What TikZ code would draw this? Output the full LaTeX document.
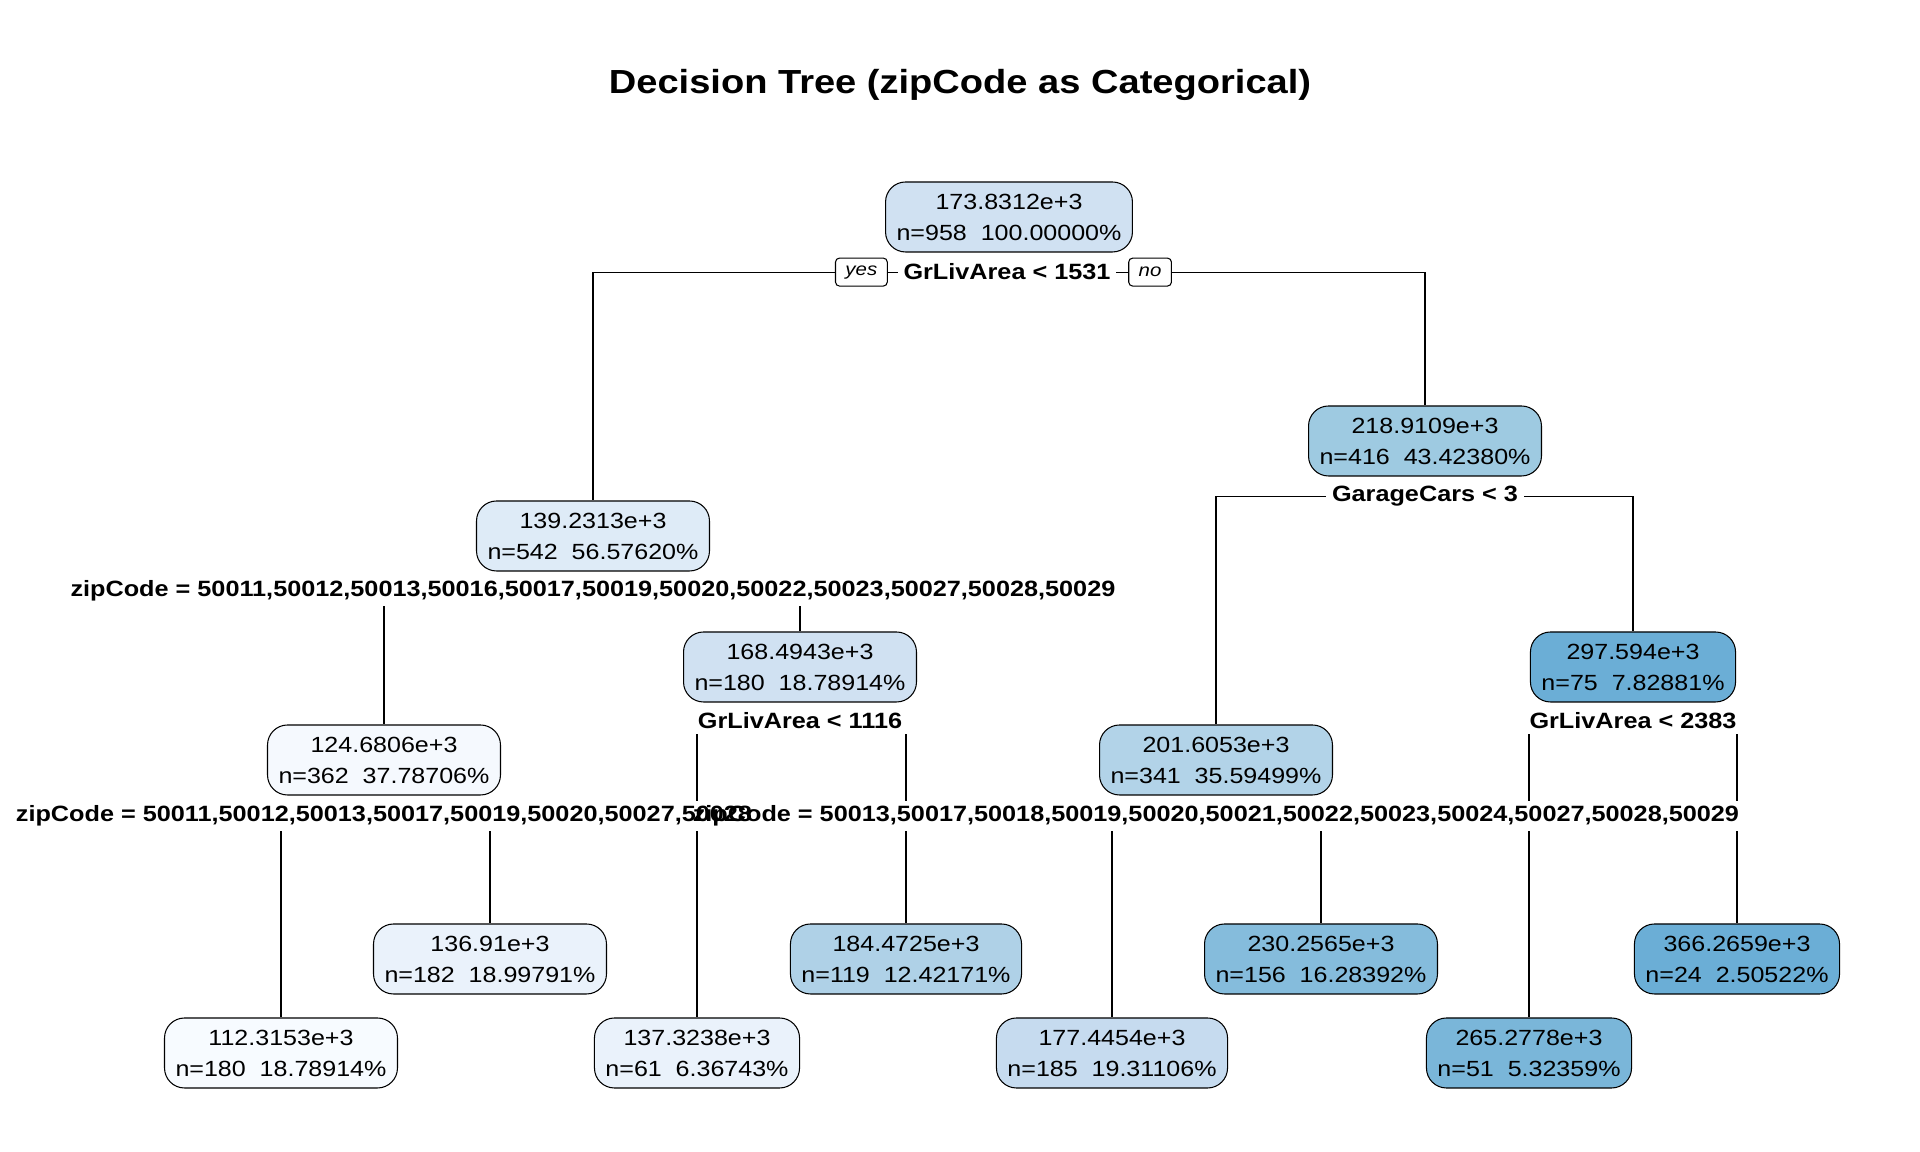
\documentclass[tikz,border=0pt]{standalone}
\usepackage{fontspec}
\setmainfont{Liberation Sans}[FakeStretch=1.14]
\usetikzlibrary{positioning}
\definecolor{blueA}{RGB}{208,225,242}
\definecolor{blueB}{RGB}{222,235,247}
\definecolor{blueC}{RGB}{245,249,254}
\definecolor{blueD}{RGB}{247,251,255}
\definecolor{blueE}{RGB}{234,242,251}
\definecolor{blueF}{RGB}{198,219,239}
\definecolor{blueG}{RGB}{175,209,231}
\definecolor{blueH}{RGB}{178,211,232}
\definecolor{blueI}{RGB}{158,202,225}
\definecolor{blueJ}{RGB}{133,188,220}
\definecolor{blueK}{RGB}{122,182,217}
\definecolor{blueL}{RGB}{107,174,214}
\pgfdeclarelayer{edges}
\pgfdeclarelayer{masks}
\pgfsetlayers{edges,masks,main}
\tikzset{
	treestyle/.style={draw=black, line width=0.3pt, rounded corners=2mm, align=center, minimum height=7mm, inner xsep=1.1mm, inner ysep=0.5mm, font=\fontsize{6.25pt}{8.8pt}\selectfont},
	splitstyle/.style={anchor=base, inner xsep=0.5mm, inner ysep=0.4mm, font=\fontsize{6.3pt}{8.8pt}\selectfont\bfseries},
	yesnostyle/.style={draw=black, fill=white, line width=0.3pt, rounded corners=0.4mm, minimum height=2.8mm, inner xsep=1mm, inner ysep=0pt, font=\fontsize{5.1pt}{6pt}\selectfont\itshape},
	titlestyle/.style={anchor=base, inner sep=0pt, font=\fontsize{9.5pt}{11pt}\selectfont\bfseries},
	edgestyle/.style={draw=black, line width=0.3pt}
}

\begin{document}
\begin{tikzpicture}[x=0.1mm, y=-0.1mm]
	\useasboundingbox (0,0) rectangle (1920,1152);
	\node[titlestyle] (title) at (960,94) {Decision Tree (zipCode as Categorical)};

	\node[treestyle, fill=blueA] (n1) at (1009,217) {173.8312e+3\\n=958\ \ 100.00000\%};
	\node[treestyle, fill=blueB] (n2) at (593,536) {139.2313e+3\\n=542\ \ 56.57620\%};
	\node[treestyle, fill=blueI] (n3) at (1425,441) {218.9109e+3\\n=416\ \ 43.42380\%};
	\node[treestyle, fill=blueC] (n4) at (384,760) {124.6806e+3\\n=362\ \ 37.78706\%};
	\node[treestyle, fill=blueA] (n5) at (800,667) {168.4943e+3\\n=180\ \ 18.78914\%};
	\node[treestyle, fill=blueH] (n6) at (1216,760) {201.6053e+3\\n=341\ \ 35.59499\%};
	\node[treestyle, fill=blueL] (n7) at (1633,667) {297.594e+3\\n=75\ \ 7.82881\%};
	\node[treestyle, fill=blueD] (n8) at (281,1053) {112.3153e+3\\n=180\ \ 18.78914\%};
	\node[treestyle, fill=blueE] (n9) at (490,959) {136.91e+3\\n=182\ \ 18.99791\%};
	\node[treestyle, fill=blueE] (n10) at (697,1053) {137.3238e+3\\n=61\ \ 6.36743\%};
	\node[treestyle, fill=blueG] (n11) at (906,959) {184.4725e+3\\n=119\ \ 12.42171\%};
	\node[treestyle, fill=blueF] (n12) at (1112,1053) {177.4454e+3\\n=185\ \ 19.31106\%};
	\node[treestyle, fill=blueJ] (n13) at (1321,959) {230.2565e+3\\n=156\ \ 16.28392\%};
	\node[treestyle, fill=blueK] (n14) at (1529,1053) {265.2778e+3\\n=51\ \ 5.32359\%};
	\node[treestyle, fill=blueL] (n15) at (1737,959) {366.2659e+3\\n=24\ \ 2.50522\%};

	\node[splitstyle] (s1) at (1007,280) {GrLivArea < 1531};
	\node[splitstyle] (s2) at (1425,502) {GarageCars < 3};
	\node[splitstyle] (s3) at (593,597) {zipCode = 50011,50012,50013,50016,50017,50019,50020,50022,50023,50027,50028,50029};
	\node[splitstyle] (s4) at (800,729) {GrLivArea < 1116};
	\node[splitstyle] (s5) at (1633,729) {GrLivArea < 2383};
	\node[splitstyle] (s6) at (384,822) {zipCode = 50011,50012,50013,50017,50019,50020,50027,50028};
	\node[splitstyle] (s7) at (1216,822) {zipCode = 50013,50017,50018,50019,50020,50021,50022,50023,50024,50027,50028,50029};

	\node[yesnostyle, left=1mm of s1] (yes) {yes};
	\node[yesnostyle, right=1.2mm of s1] (no) {no};

	\begin{pgfonlayer}{masks}
		\foreach \s in {s1,s2,s3,s4,s5,s6,s7}
			\fill[white] (\s.south west) rectangle (\s.north east);
	\end{pgfonlayer}

	\begin{pgfonlayer}{edges}
		\draw[edgestyle] (s1.center) -| (n2.north);
		\draw[edgestyle] (s1.center) -| (n3.north);
		\draw[edgestyle] (s3.center) -| (n4.north);
		\draw[edgestyle] (s3.center) -| (n5.north);
		\draw[edgestyle] (s2.center) -| (n6.north);
		\draw[edgestyle] (s2.center) -| (n7.north);
		\draw[edgestyle] (s6.center) -| (n8.north);
		\draw[edgestyle] (s6.center) -| (n9.north);
		\draw[edgestyle] (s4.center) -| (n10.north);
		\draw[edgestyle] (s4.center) -| (n11.north);
		\draw[edgestyle] (s7.center) -| (n12.north);
		\draw[edgestyle] (s7.center) -| (n13.north);
		\draw[edgestyle] (s5.center) -| (n14.north);
		\draw[edgestyle] (s5.center) -| (n15.north);
	\end{pgfonlayer}
\end{tikzpicture}
\end{document}
